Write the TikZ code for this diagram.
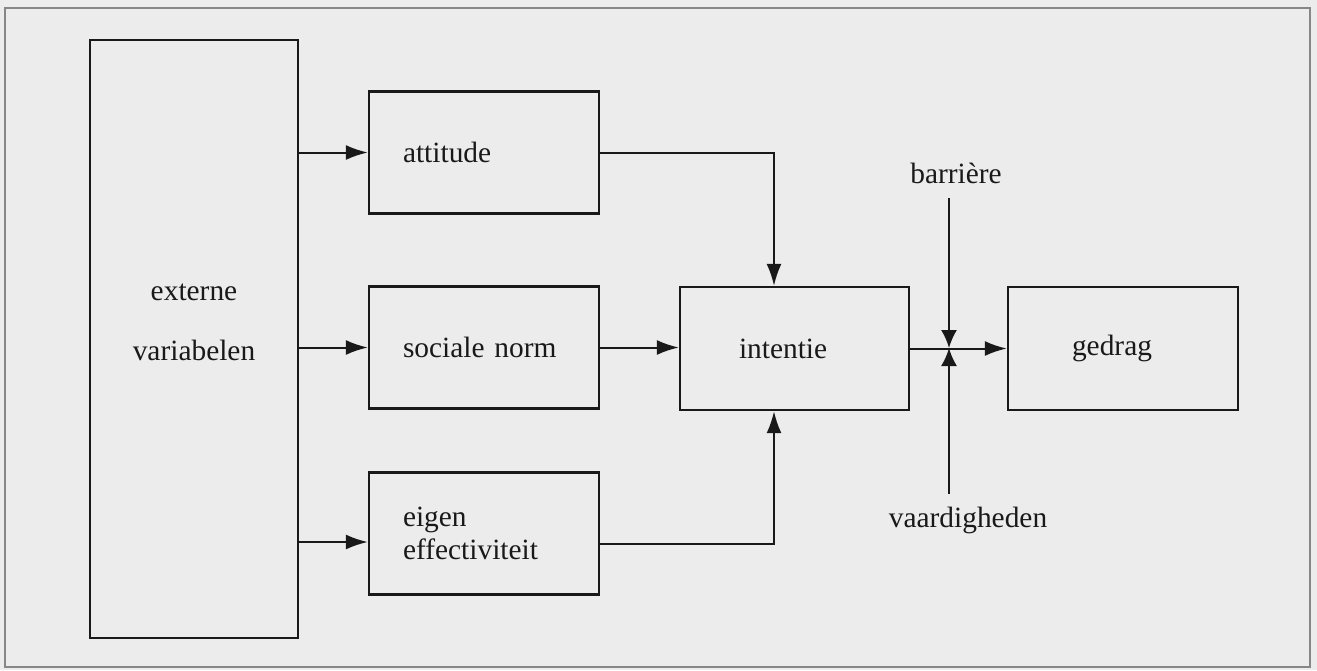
\documentclass[tikz,border=0pt]{standalone}
\usepackage{fontspec}
\setmainfont{Liberation Serif}
\usetikzlibrary{arrows.meta}
\definecolor{paper}{RGB}{236,236,236}
\definecolor{framegray}{RGB}{135,135,135}
\definecolor{ink}{RGB}{25,25,25}
\begin{document}
\begin{tikzpicture}[x=0.5pt,y=-0.5pt,
  txt/.style={text=ink, font=\fontsize{14.7}{16.5}\selectfont},
  box/.style={draw=ink, line width=1.2pt, txt, inner ysep=0pt},
  lbox/.style={box, minimum width=115pt, minimum height=61pt, inner xsep=17pt, text width=81pt, align=left},
  rbox/.style={box, minimum height=61.5pt, align=left},
  conn/.style={draw=ink, line width=1pt},
  arr/.style={conn, -{Latex[length=11pt,width=7.5pt]}},
  varr/.style={conn, -{Latex[length=9pt,width=8pt]}}
]
\fill[paper] (0,0) rectangle (1317,670);
\useasboundingbox (0,0) rectangle (1317,670);
\draw[framegray, line width=1pt] (5,8) rectangle (1310,667);

% boxes
\node[box, minimum width=104pt, minimum height=299pt] (ext) at (194,339) {};
\node[txt, align=center, font=\fontsize{14.7}{30}\selectfont] (extt) at (194,322) {externe\\variabelen};
\node[lbox] (att) at (484,152.5) {attitude};
\node[lbox] (soc) at (484,347.5) {sociale norm};
\node[lbox] (eig) at (484,533.5) {eigen\\effectiviteit};
\node[rbox, minimum width=114.5pt, inner xsep=29.5pt, text width=55.5pt] (int) at (794.5,348.5) {intentie};
\node[rbox, minimum width=115pt, inner xsep=32pt, text width=51pt] (ged) at (1123,348.5) {gedrag};

\node[txt] (bar) at (956,173) {barrière};
\node[txt] (vaa) at (968,520) {vaardigheden};

% helper coordinates
\coordinate (e1) at ([yshift=-4.25pt]eig.west);
\coordinate (e2) at ([yshift=-5.25pt]eig.east);
\coordinate (ia) at ([xshift=-10.25pt]int.north);
\coordinate (ib) at ([xshift=-10.25pt]int.south);
\coordinate (m) at (949,348);

% connectors
\draw[arr] (att.west -| ext.east) -- (att.west);
\draw[arr] (soc.west -| ext.east) -- (soc.west);
\draw[arr] (e1 -| ext.east) -- (e1);
\draw[arr] (att.east) -| (ia);
\draw[arr] (soc.east) -- (soc.east -| int.west);
\draw[arr] (e2) -| (ib);
\draw[arr] (int.east) -- (ged.west);
\draw[varr, shorten <=4pt] (bar.south -| m) -- (m);
\draw[varr, shorten <=3pt] (vaa.north -| m) -- (m);
\end{tikzpicture}
\end{document}
